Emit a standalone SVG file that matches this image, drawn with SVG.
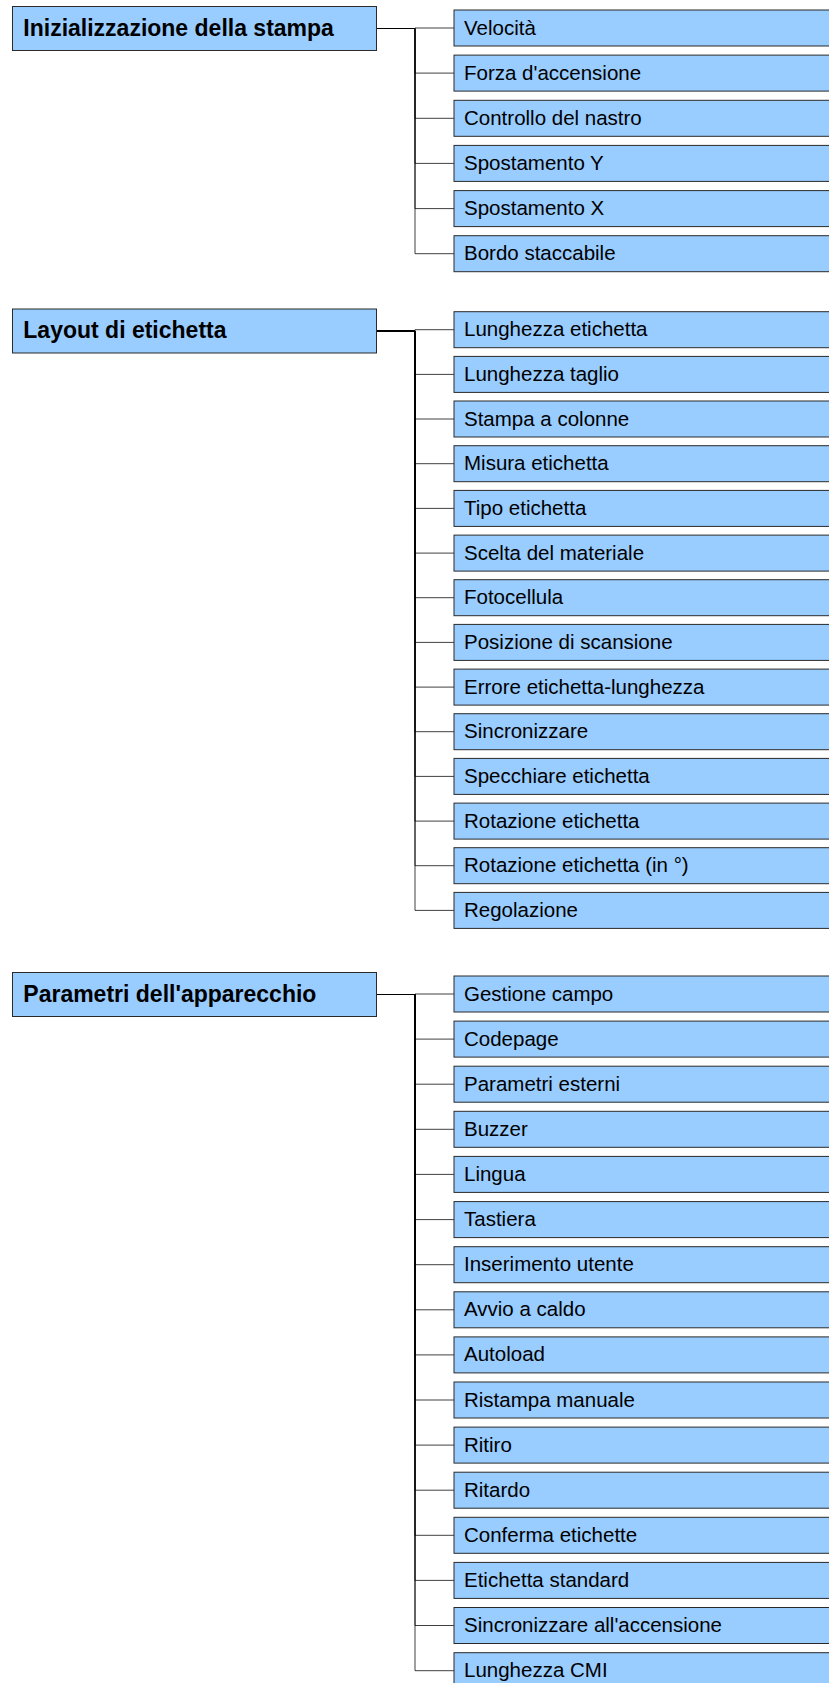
<svg xmlns="http://www.w3.org/2000/svg" width="829" height="1683" viewBox="0 0 829 1683">
  <style>
    .root rect, .item rect { fill: #99ccff; stroke: #2a2a2a; stroke-width: 1; }
    .root text { font-family: "Liberation Sans", Arial, sans-serif; font-size: 23px; font-weight: bold; fill: #000; }
    .item text { font-family: "Liberation Sans", Arial, sans-serif; font-size: 20.5px; fill: #000; }
    #connectors path { fill: none; stroke: #000; stroke-opacity: 0.75; stroke-width: 1; }
  </style>
  <rect width="829" height="1683" fill="#ffffff"/>

  <!-- elbow connectors: parent right edge -> trunk x=415 -> child left edge -->
  <g id="connectors">
    <path d="M376.5,28.5 H415 V28 H454"/>
    <path d="M376.5,28.5 H415 V73.1 H454"/>
    <path d="M376.5,28.5 H415 V118.3 H454"/>
    <path d="M376.5,28.5 H415 V163.4 H454"/>
    <path d="M376.5,28.5 H415 V208.6 H454"/>
    <path d="M376.5,28.5 H415 V253.7 H454"/>

    <path d="M376.5,331 H415 V329.7 H454"/>
    <path d="M376.5,331 H415 V374.4 H454"/>
    <path d="M376.5,331 H415 V419 H454"/>
    <path d="M376.5,331 H415 V463.7 H454"/>
    <path d="M376.5,331 H415 V508.4 H454"/>
    <path d="M376.5,331 H415 V553.1 H454"/>
    <path d="M376.5,331 H415 V597.7 H454"/>
    <path d="M376.5,331 H415 V642.4 H454"/>
    <path d="M376.5,331 H415 V687.1 H454"/>
    <path d="M376.5,331 H415 V731.7 H454"/>
    <path d="M376.5,331 H415 V776.4 H454"/>
    <path d="M376.5,331 H415 V821.1 H454"/>
    <path d="M376.5,331 H415 V865.7 H454"/>
    <path d="M376.5,331 H415 V910.4 H454"/>

    <path d="M376.5,994.5 H415 V994 H454"/>
    <path d="M376.5,994.5 H415 V1039.1 H454"/>
    <path d="M376.5,994.5 H415 V1084.2 H454"/>
    <path d="M376.5,994.5 H415 V1129.3 H454"/>
    <path d="M376.5,994.5 H415 V1174.4 H454"/>
    <path d="M376.5,994.5 H415 V1219.6 H454"/>
    <path d="M376.5,994.5 H415 V1264.7 H454"/>
    <path d="M376.5,994.5 H415 V1309.8 H454"/>
    <path d="M376.5,994.5 H415 V1354.9 H454"/>
    <path d="M376.5,994.5 H415 V1400 H454"/>
    <path d="M376.5,994.5 H415 V1445.1 H454"/>
    <path d="M376.5,994.5 H415 V1490.2 H454"/>
    <path d="M376.5,994.5 H415 V1535.3 H454"/>
    <path d="M376.5,994.5 H415 V1580.4 H454"/>
    <path d="M376.5,994.5 H415 V1625.5 H454"/>
    <path d="M376.5,994.5 H415 V1670.7 H454"/>
  </g>

  <!-- Section 1 -->
  <g id="inizializzazione" class="root"><rect x="12.5" y="6.5" width="364" height="44"/><text x="23.3" y="35.7">Inizializzazione della stampa</text></g>
  <g id="velocita" class="item"><rect x="454" y="10" width="390" height="36"/><text x="464" y="34.5">Velocità</text></g>
  <g id="forza" class="item"><rect x="454" y="55.1" width="390" height="36"/><text x="464" y="79.6">Forza d'accensione</text></g>
  <g id="controllo-nastro" class="item"><rect x="454" y="100.3" width="390" height="36"/><text x="464" y="124.8">Controllo del nastro</text></g>
  <g id="spostamento-y" class="item"><rect x="454" y="145.4" width="390" height="36"/><text x="464" y="169.9">Spostamento Y</text></g>
  <g id="spostamento-x" class="item"><rect x="454" y="190.6" width="390" height="36"/><text x="464" y="215.1">Spostamento X</text></g>
  <g id="bordo-staccabile" class="item"><rect x="454" y="235.7" width="390" height="36"/><text x="464" y="260.2">Bordo staccabile</text></g>

  <!-- Section 2 -->
  <g id="layout" class="root"><rect x="12.5" y="309" width="364" height="44"/><text x="23.3" y="338.3">Layout di etichetta</text></g>
  <g id="lunghezza-etichetta" class="item"><rect x="454" y="311.7" width="390" height="36"/><text x="464" y="336.2">Lunghezza etichetta</text></g>
  <g id="lunghezza-taglio" class="item"><rect x="454" y="356.4" width="390" height="36"/><text x="464" y="380.9">Lunghezza taglio</text></g>
  <g id="stampa-colonne" class="item"><rect x="454" y="401" width="390" height="36"/><text x="464" y="425.5">Stampa a colonne</text></g>
  <g id="misura-etichetta" class="item"><rect x="454" y="445.7" width="390" height="36"/><text x="464" y="470.2">Misura etichetta</text></g>
  <g id="tipo-etichetta" class="item"><rect x="454" y="490.4" width="390" height="36"/><text x="464" y="514.9">Tipo etichetta</text></g>
  <g id="scelta-materiale" class="item"><rect x="454" y="535.1" width="390" height="36"/><text x="464" y="559.6">Scelta del materiale</text></g>
  <g id="fotocellula" class="item"><rect x="454" y="579.7" width="390" height="36"/><text x="464" y="604.2">Fotocellula</text></g>
  <g id="posizione-scansione" class="item"><rect x="454" y="624.4" width="390" height="36"/><text x="464" y="648.9">Posizione di scansione</text></g>
  <g id="errore-lunghezza" class="item"><rect x="454" y="669.1" width="390" height="36"/><text x="464" y="693.6">Errore etichetta-lunghezza</text></g>
  <g id="sincronizzare" class="item"><rect x="454" y="713.7" width="390" height="36"/><text x="464" y="738.2">Sincronizzare</text></g>
  <g id="specchiare" class="item"><rect x="454" y="758.4" width="390" height="36"/><text x="464" y="782.9">Specchiare etichetta</text></g>
  <g id="rotazione" class="item"><rect x="454" y="803.1" width="390" height="36"/><text x="464" y="827.6">Rotazione etichetta</text></g>
  <g id="rotazione-gradi" class="item"><rect x="454" y="847.7" width="390" height="36"/><text x="464" y="872.2">Rotazione etichetta (in °)</text></g>
  <g id="regolazione" class="item"><rect x="454" y="892.4" width="390" height="36"/><text x="464" y="916.9">Regolazione</text></g>

  <!-- Section 3 -->
  <g id="parametri-apparecchio" class="root"><rect x="12.5" y="972.5" width="364" height="44"/><text x="23.3" y="1001.5">Parametri dell'apparecchio</text></g>
  <g id="gestione-campo" class="item"><rect x="454" y="976" width="390" height="36"/><text x="464" y="1000.5">Gestione campo</text></g>
  <g id="codepage" class="item"><rect x="454" y="1021.1" width="390" height="36"/><text x="464" y="1045.6">Codepage</text></g>
  <g id="parametri-esterni" class="item"><rect x="454" y="1066.2" width="390" height="36"/><text x="464" y="1090.7">Parametri esterni</text></g>
  <g id="buzzer" class="item"><rect x="454" y="1111.3" width="390" height="36"/><text x="464" y="1135.8">Buzzer</text></g>
  <g id="lingua" class="item"><rect x="454" y="1156.4" width="390" height="36"/><text x="464" y="1180.9">Lingua</text></g>
  <g id="tastiera" class="item"><rect x="454" y="1201.6" width="390" height="36"/><text x="464" y="1226.1">Tastiera</text></g>
  <g id="inserimento-utente" class="item"><rect x="454" y="1246.7" width="390" height="36"/><text x="464" y="1271.2">Inserimento utente</text></g>
  <g id="avvio-caldo" class="item"><rect x="454" y="1291.8" width="390" height="36"/><text x="464" y="1316.3">Avvio a caldo</text></g>
  <g id="autoload" class="item"><rect x="454" y="1336.9" width="390" height="36"/><text x="464" y="1361.4">Autoload</text></g>
  <g id="ristampa-manuale" class="item"><rect x="454" y="1382" width="390" height="36"/><text x="464" y="1406.5">Ristampa manuale</text></g>
  <g id="ritiro" class="item"><rect x="454" y="1427.1" width="390" height="36"/><text x="464" y="1451.6">Ritiro</text></g>
  <g id="ritardo" class="item"><rect x="454" y="1472.2" width="390" height="36"/><text x="464" y="1496.7">Ritardo</text></g>
  <g id="conferma-etichette" class="item"><rect x="454" y="1517.3" width="390" height="36"/><text x="464" y="1541.8">Conferma etichette</text></g>
  <g id="etichetta-standard" class="item"><rect x="454" y="1562.4" width="390" height="36"/><text x="464" y="1586.9">Etichetta standard</text></g>
  <g id="sincronizzare-accensione" class="item"><rect x="454" y="1607.5" width="390" height="36"/><text x="464" y="1632">Sincronizzare all'accensione</text></g>
  <g id="lunghezza-cmi" class="item"><rect x="454" y="1652.7" width="390" height="36"/><text x="464" y="1677.2">Lunghezza CMI</text></g>
</svg>
